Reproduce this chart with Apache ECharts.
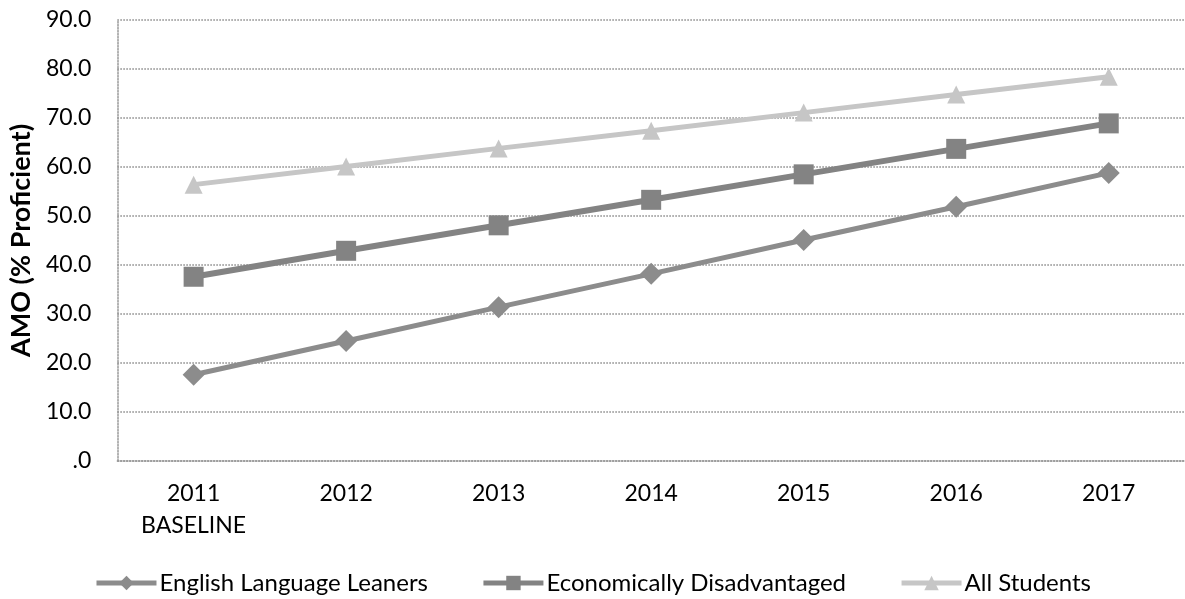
<!DOCTYPE html>
<html>
<head>
<meta charset="utf-8">
<script src="https://cdn.jsdelivr.net/npm/echarts@6/dist/echarts.min.js"></script>
<style>
  html, body { margin: 0; padding: 0; background: #fff; }
  #chart { width: 1185px; height: 599px; }
</style>
</head>
<body>
<div id="chart"></div>
<script>
// 数据
var years = ['2011\nBASELINE', '2012', '2013', '2014', '2015', '2016', '2017'];
var ell = [17.6, 24.5, 31.4, 38.2, 45.1, 51.9, 58.8];
var econ = [37.6, 42.9, 48.1, 53.3, 58.5, 63.7, 68.9];
var allStudents = [56.4, 60.1, 63.8, 67.4, 71.1, 74.8, 78.4];

var font = 'Lato, "Open Sans", sans-serif';
var chart = echarts.init(document.getElementById('chart'));

function line(name, data, color, symbol, size, width) {
    return {
        name: name, type: 'line', data: data,
        symbol: symbol, symbolSize: size,
        lineStyle: {color: color, width: width},
        itemStyle: {color: color},
        emphasis: {disabled: true},
        animation: false
    };
}

chart.setOption({
    animation: false,
    grid: {left: 116, top: 20, width: 1075, bottom: 138, containLabel: false},
    legend: {
        top: 566, left: 'center', itemGap: 53,
        itemWidth: 60, itemHeight: 18,
        lineStyle: {width: 5},
        textStyle: {fontFamily: font, fontSize: 24, color: '#000', padding: [0, 0, 0, -2]},
        data: ['English Language Leaners', 'Economically Disadvantaged', 'All Students']
    },
    xAxis: {
        type: 'category', boundaryGap: true, data: years,
        axisTick: {show: false},
        axisLine: {lineStyle: {color: '#999', type: 'dotted', width: 1.5}},
        axisLabel: {fontFamily: font, fontSize: 23, color: '#000', margin: 17, lineHeight: 32}
    },
    yAxis: {
        type: 'value', min: 0, max: 90, interval: 10,
        name: 'AMO (% Proficient)', nameLocation: 'middle', nameGap: 80,
        nameTextStyle: {fontFamily: font, fontSize: 27, fontWeight: 'bold', color: '#000'},
        axisLine: {show: true, lineStyle: {color: '#999', type: 'dotted', width: 1.5}},
        axisTick: {show: false},
        splitLine: {lineStyle: {color: '#888', type: 'dotted', width: 1.5}},
        axisLabel: {
            fontFamily: font, fontSize: 23, color: '#000', margin: 26,
            formatter: function (v) { return v === 0 ? '.0' : v.toFixed(1); }
        }
    },
    series: [
        line('English Language Leaners', ell, '#8c8c8c', 'diamond', 22, 5),
        line('Economically Disadvantaged', econ, '#838383', 'rect', 20, 6),
        line('All Students', allStudents, '#c6c6c6', 'triangle', 18, 5)
    ]
});
</script>
</body>
</html>
